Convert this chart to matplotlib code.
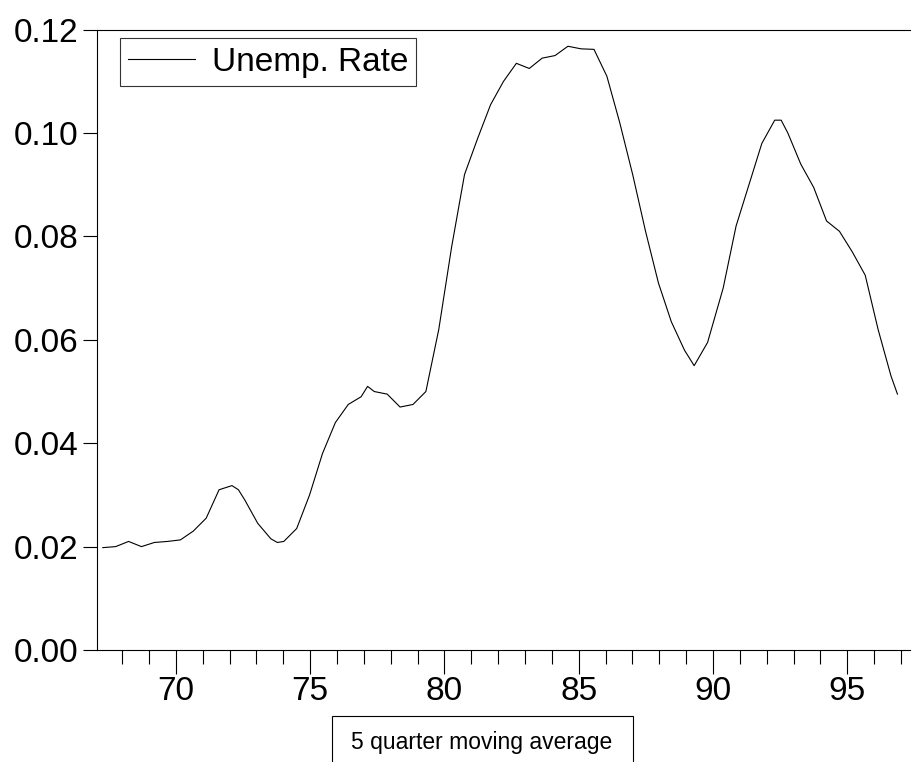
import matplotlib.pyplot as plt
from matplotlib.patches import Rectangle
from matplotlib.ticker import MultipleLocator

plt.rcParams['font.family'] = 'Liberation Sans'

years = [67.28, 67.76, 68.24, 68.72, 69.20, 69.69, 70.17, 70.65, 71.13, 71.61, 72.09, 72.33,
         72.57, 73.05, 73.54, 73.78, 74.02, 74.50, 74.98, 75.46, 75.94, 76.42, 76.90, 77.14,
         77.39, 77.87, 78.35, 78.83, 79.31, 79.79, 80.27, 80.75, 81.24, 81.72, 82.20, 82.68,
         83.16, 83.64, 84.12, 84.60, 85.09, 85.57, 86.05, 86.53, 87.01, 87.49, 87.97, 88.45,
         88.94, 89.30, 89.80, 90.38, 90.86, 91.34, 91.82, 92.30, 92.54, 92.79, 93.27, 93.75,
         94.23, 94.71, 95.19, 95.67, 96.15, 96.63, 96.87]
unemp = [0.0198, 0.0200, 0.0210, 0.0200, 0.0208, 0.0210, 0.0213, 0.0230, 0.0255, 0.0310,
         0.0318, 0.0310, 0.0290, 0.0245, 0.0215, 0.0208, 0.0210, 0.0235, 0.0300, 0.0380,
         0.0440, 0.0475, 0.0490, 0.0510, 0.0500, 0.0495, 0.0470, 0.0475, 0.0500, 0.0620,
         0.0780, 0.0920, 0.0990, 0.1055, 0.1100, 0.1135, 0.1125, 0.1145, 0.1150, 0.1168,
         0.1163, 0.1162, 0.1110, 0.1020, 0.0920, 0.0810, 0.0710, 0.0635, 0.0580, 0.0550,
         0.0595, 0.0700, 0.0820, 0.0900, 0.0980, 0.1025, 0.1025, 0.1000, 0.0940, 0.0895,
         0.0830, 0.0810, 0.0770, 0.0725, 0.0620, 0.0530, 0.0495]

fig = plt.figure(figsize=(9.14, 7.62), dpi=100)
ax = fig.add_axes([0.106, 0.147, 0.89, 0.814])
ax.plot(years, unemp, color='black', linewidth=0.8, label='Unemp. Rate')

ax.set_xlim(67.06, 97.35)
ax.set_ylim(0, 0.12)
ax.spines['right'].set_visible(False)
for s in ax.spines.values():
    s.set_linewidth(0.8)
ax.xaxis.set_major_locator(MultipleLocator(5))
ax.xaxis.set_minor_locator(MultipleLocator(1))
ax.yaxis.set_major_locator(MultipleLocator(0.02))
ax.yaxis.set_major_formatter(plt.FuncFormatter(lambda v, p: f'{v:.2f}'))
ax.tick_params(axis='y', direction='out', labelsize=24, length=10, width=0.8)
ax.tick_params(axis='x', which='major', direction='out', labelsize=24, length=17, width=0.8, pad=2)
ax.tick_params(axis='x', which='minor', direction='out', length=10, width=0.8)

leg = ax.legend(loc='upper left', fontsize=24, fancybox=False, edgecolor='black',
                handlelength=2.0, handletextpad=0.5, borderpad=0.25,
                bbox_to_anchor=(0.008, 1.013))
leg.get_frame().set_linewidth(0.8)

# caption box runs off the bottom edge, as in the original
fig.patches.append(Rectangle((332 / 914, -0.02), 301 / 914, 0.02 + 46 / 762,
                             transform=fig.transFigure, facecolor='white',
                             edgecolor='black', linewidth=0.8))
fig.text(482 / 914, 19 / 762, '5 quarter moving average', ha='center', va='center',
         fontsize=16.5)

fig.savefig('out.png', dpi=100)
